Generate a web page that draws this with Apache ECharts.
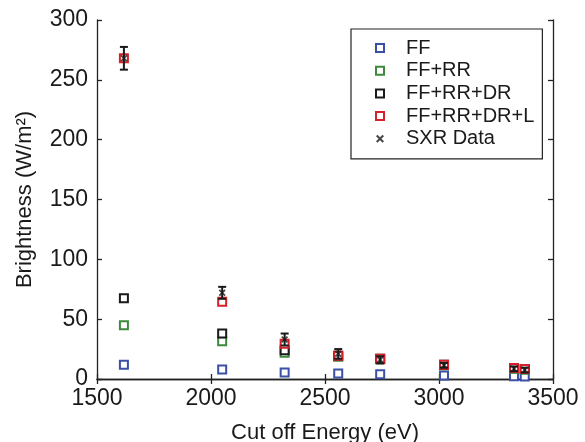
<!DOCTYPE html>
<html>
<head>
<meta charset="utf-8">
<script src="https://cdn.jsdelivr.net/npm/echarts@6/dist/echarts.min.js"></script>
<style>
  html, body { margin: 0; padding: 0; background: #fff; }
  #chart { width: 585px; height: 442px; }
</style>
</head>
<body>
<div id="chart"></div>
<script>
// cut off energies (eV)
var energy = [1618, 2049, 2323, 2558, 2742, 3022, 3329, 3376];

// model brightness (W/m^2)
var ff       = [12, 8, 5.5, 4.5, 4, 3, 2.3, 2];
var ffrr     = [45, 31.5, 22, 18.5, 16.5, 11.5, 8.5, 7.8];
var ffrrdr   = [67.5, 38, 24, 19.5, 17, 12, 9.2, 8.4];
var ffrrdrl  = [268, 64.5, 29.5, 19.5, 17, 12, 9.2, 8.4];

// SXR measurements and error bars
var sxr      = [268, 72, 33, 21, 16, 11.5, 8.5, 7.5];
var sxrErr   = [9.5, 5, 5, 4, 3, 2, 2, 2];

var seriesNames = ['FF', 'FF+RR', 'FF+RR+DR', 'FF+RR+DR+L', 'SXR Data'];
var seriesColors = ['#3a4fa6', '#3c8a3c', '#1a1a1a', '#d6202a', '#1a1a1a'];

var xTicks = [1500, 3500, 500];
var yTicks = [0, 300, 50];

var font = 'Liberation Sans, Arial, Helvetica, sans-serif';
var xMark = 'path://M0,1.8L1.8,0L5,3.2L8.2,0L10,1.8L6.8,5L10,8.2L8.2,10L5,6.8L1.8,10L0,8.2L3.2,5Z';

function pairs(ys) {
    return energy.map(function (x, i) { return [x, ys[i]]; });
}

var squareSeries = [ff, ffrr, ffrrdr, ffrrdrl].map(function (ys, k) {
    return {
        name: seriesNames[k],
        type: 'scatter',
        symbol: 'emptyRect',
        symbolSize: 8,
        itemStyle: { color: seriesColors[k], borderColor: seriesColors[k], borderWidth: 2.2, opacity: 1 },
        data: pairs(ys),
        z: 2 + k
    };
});

var errData = energy.map(function (x, i) {
    return [x, sxr[i] - sxrErr[i], sxr[i] + sxrErr[i]];
});

var errSeries = {
    type: 'custom',
    name: 'err',
    z: 10,
    renderItem: function (params, api) {
        var lo = api.coord([api.value(0), api.value(1)]);
        var hi = api.coord([api.value(0), api.value(2)]);
        var w = 4;
        var st = { stroke: '#1a1a1a', lineWidth: 2 };
        return {
            type: 'group',
            children: [
                { type: 'line', shape: { x1: lo[0], y1: lo[1], x2: hi[0], y2: hi[1] }, style: st },
                { type: 'line', shape: { x1: lo[0] - w, y1: lo[1], x2: lo[0] + w, y2: lo[1] }, style: st },
                { type: 'line', shape: { x1: hi[0] - w, y1: hi[1], x2: hi[0] + w, y2: hi[1] }, style: st }
            ]
        };
    },
    encode: { x: 0, y: [1, 2] },
    data: errData
};

var sxrSeries = {
    name: 'SXR Data',
    type: 'scatter',
    symbol: xMark,
    symbolSize: 7,
    itemStyle: { color: '#1a1a1a' },
    data: pairs(sxr),
    z: 11
};

var axisLine = { show: true, lineStyle: { color: '#222', width: 1.3 } };
var axisTick = { show: true, inside: true, length: 5, lineStyle: { color: '#222', width: 1.3 } };

var myChart = echarts.init(document.getElementById('chart'));

var options = {
    animation: false,
    backgroundColor: '#fff',
    grid: { left: 97, right: 32, top: 20, bottom: 63, show: false,
        containLabel: false, outerBoundsMode: 'none' },
    legend: {
        orient: 'vertical',
        left: 351,
        top: 29,
        padding: [9, 8, 10, 24],
        itemWidth: 8,
        itemHeight: 8,
        itemGap: 2.7,
        borderColor: '#222',
        borderWidth: 1.2,
        borderRadius: 0,
        backgroundColor: '#fff',
        data: seriesNames.map(function (n, k) {
            return k < 4 ? { name: n, icon: 'emptyRect' } : { name: n, icon: xMark };
        }),
        textStyle: { fontFamily: font, fontSize: 20, color: '#1a1a1a', lineHeight: 20, padding: [0, 0, 0, 17] }
    },
    xAxis: [{
        type: 'value',
        min: xTicks[0], max: xTicks[1], interval: xTicks[2],
        name: 'Cut off Energy (eV)',
        nameLocation: 'middle',
        nameGap: 43,
        nameTextStyle: { fontFamily: font, fontSize: 22, color: '#1a1a1a' },
        axisLine: axisLine,
        axisTick: axisTick,
        splitLine: { show: false },
        axisLabel: { fontFamily: font, fontSize: 23, color: '#1a1a1a', margin: 8,
            formatter: function (v) { return String(v); } }
    }, {
        type: 'value', position: 'top',
        min: xTicks[0], max: xTicks[1], interval: xTicks[2],
        axisLine: axisLine, axisTick: axisTick,
        axisLabel: { show: false }, splitLine: { show: false }
    }],
    yAxis: [{
        type: 'value',
        min: yTicks[0], max: yTicks[1], interval: yTicks[2],
        name: 'Brightness (W/m²)',
        nameLocation: 'middle',
        nameGap: 61,
        nameTextStyle: { fontFamily: font, fontSize: 22, color: '#1a1a1a' },
        axisLine: axisLine,
        axisTick: axisTick,
        splitLine: { show: false },
        axisLabel: { fontFamily: font, fontSize: 23, color: '#1a1a1a', margin: 9 }
    }, {
        type: 'value', position: 'right',
        min: yTicks[0], max: yTicks[1], interval: yTicks[2],
        axisLine: axisLine, axisTick: axisTick,
        axisLabel: { show: false }, splitLine: { show: false }
    }],
    series: squareSeries.concat([errSeries, sxrSeries])
};

myChart.setOption(options);
</script>
</body>
</html>
